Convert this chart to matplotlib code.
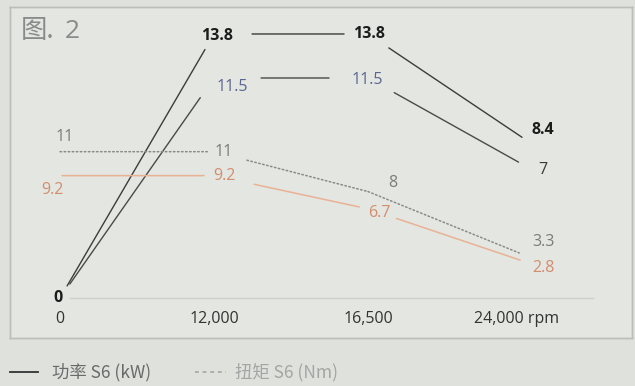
import matplotlib
matplotlib.use("Agg")
import matplotlib.pyplot as plt
from matplotlib.lines import Line2D

# chart data
rpm_labels = ["0", "12,000", "16,500", "24,000 rpm"]
power_high = [0, 13.8, 13.8, 8.4]     # kW, bold black series
power_low = [0, 11.5, 11.5, 7]        # kW, second power curve
torque_high = [11, 11, 8, 3.3]        # Nm, dotted
torque_low = [9.2, 9.2, 6.7, 2.8]     # Nm, orange

legend_labels = ["功率 S6 (kW)", "扭矩 S6 (Nm)"]

NUM_FONT = ["Open Sans", "DejaVu Sans"]
CJK_FONT = ["Noto Sans CJK SC", "DejaVu Sans"]
PX = 72 / 100  # pixels -> points at dpi 100


def draw_series(ax, values, color, ls, lw, shrinks, labels_style):
    """Draw broken line segments between points and the value labels."""
    xs = range(len(values))
    for i in range(len(values) - 1):
        a, b = shrinks[i]
        ax.annotate("", xy=(xs[i + 1], values[i + 1]), xytext=(xs[i], values[i]),
                    arrowprops=dict(arrowstyle="-", color=color, lw=lw, linestyle=ls,
                                    shrinkA=a * PX, shrinkB=b * PX))
    for i, v in enumerate(values):
        st = labels_style[i]
        if st is None:
            continue
        dx, dy, tcolor, weight = st
        ax.annotate(f"{v:g}", xy=(xs[i], v), xytext=(dx, -dy), textcoords="offset pixels",
                    ha="center", va="center", fontsize=11.5, color=tcolor,
                    fontweight=weight, family=NUM_FONT)


fig = plt.figure(figsize=(6.35, 3.86), dpi=100, facecolor="#dfe1dc")
# axes box = printed frame (pixels 10..632 wide, 7..338 tall)
ax = fig.add_axes([10 / 635, 48 / 386, 622 / 635, 331 / 386])
ax.set_facecolor("#e4e6e1")
ax.set_xlim(-0.325, 3.714)
ax.set_ylim(-2.09, 15.21)
ax2 = ax.twinx()
ax2.set_ylim(-3.01, 21.88)
for a in (ax, ax2):
    a.set_xticks([])
    a.set_yticks([])
    for s in a.spines.values():
        s.set_color("#bcbeb9")
        s.set_linewidth(1.0)

# baseline
ax.axhline(0, xmin=0.096, xmax=0.937, color="#cfcfca", lw=1.0)

# x labels
for i, lab in enumerate(rpm_labels):
    ax.annotate(lab, xy=(i, 0), xytext=(-5 if i == 3 else 0, -21), textcoords="offset pixels",
                ha="center", va="center", fontsize=11.5, color="#333333", family=NUM_FONT)

dark = "#1c1c1c"
line_dark = "#3c3c3c"
blue = "#5b6592"
grey = "#7c7c7c"
orange_txt = "#d38d6e"
orange_line = "#e9b295"

draw_series(ax, power_high, line_dark, "-", 1.0,
            [(14, 18), (38, 24), (25, 0)],
            [(-2, 0, dark, "bold"), (3, 2, dark, "bold"), (1, 0, dark, "bold"),
             (21, -7, dark, "bold")])
draw_series(ax, power_low, "#4a4a4a", "-", 1.0,
            [(17, 24), (47, 39), (30, 4)],
            [None, (18, 9, blue, "normal"), (-1, 2, blue, "normal"),
             (21, 6, "#3a3a3a", "normal")])
draw_series(ax2, torque_high, "#8a8a8a", ":", 1.1,
            [(0, 5), (34, 0), (0, 3)],
            [(5, -15, grey, "normal"), (10, 0, grey, "normal"), (25, -9, grey, "normal"),
             (21, -12, grey, "normal")])
draw_series(ax2, torque_low, orange_line, "-", 1.1,
            [(2, 10), (41, 9), (30, 2)],
            [(-8, 14, orange_txt, "normal"), (10, 0, orange_txt, "normal"),
             (11, 4, orange_txt, "normal"), (21, 7, orange_txt, "normal")])

# figure title
fig.text(21 / 635, 1 - 31 / 386, "图.", fontsize=19, color="#8a8a8a",
         family=CJK_FONT, ha="left", va="center")
fig.text(65 / 635, 1 - 31 / 386, "2", fontsize=19, color="#8a8a8a",
         family=NUM_FONT, ha="left", va="center")

# legend below the frame
ly = 1 - 372 / 386
fig.add_artist(Line2D([10 / 635, 38 / 635], [ly, ly], color="#333333", lw=1.3))
fig.text(52 / 635, ly, legend_labels[0], fontsize=12.5, color="#6a6a6a",
         family=CJK_FONT, ha="left", va="center")
fig.add_artist(Line2D([195 / 635, 226 / 635], [ly, ly], color="#a0a0a0", lw=1.1,
                      linestyle=(0, (2.5, 2.5))))
fig.text(235 / 635, ly, legend_labels[1], fontsize=12.5, color="#a5a5a5",
         family=CJK_FONT, ha="left", va="center")

fig.savefig("out.png", dpi=100, facecolor=fig.get_facecolor())
